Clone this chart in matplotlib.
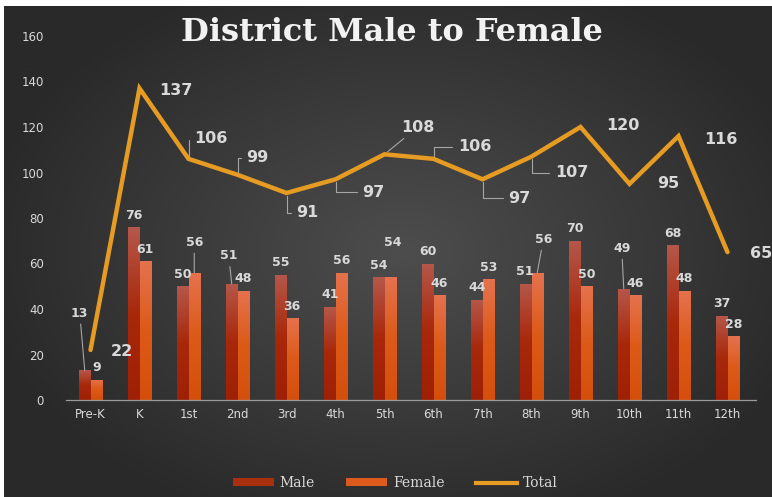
import numpy as np
import matplotlib.pyplot as plt
from matplotlib.colors import LinearSegmentedColormap
from matplotlib.lines import Line2D
from matplotlib.patches import Patch

grades = ['Pre-K', 'K', '1st', '2nd', '3rd', '4th', '5th', '6th', '7th',
          '8th', '9th', '10th', '11th', '12th']
male = [13, 76, 50, 51, 55, 41, 54, 60, 44, 51, 70, 49, 68, 37]
female = [9, 61, 56, 48, 36, 56, 54, 46, 53, 56, 50, 46, 48, 28]
total = [22, 137, 106, 99, 91, 97, 108, 106, 97, 107, 120, 95, 116, 65]
yticks = [0, 20, 40, 60, 80, 100, 120, 140, 160]

# label placement (pixels, from the point / bar top)
total_off = [(31, -2), (36, -2), (22, 20), (20, 17), (21, -20), (38, -13), (33, 27),
             (41, 12), (37, -19), (40, -16), (42, 2), (39, 0), (42, -3), (34, -1)]
total_lead = [None, None, 'e', 'e', 'e', 'e', 's', 'e', 'e', 'e', None, None, None, None]
male_off = {0: (-5, 57), 1: (0, 12), 3: (-3, 28), 9: (-1, 12), 11: (-2, 40)}
male_lead = [0, 3, 11]
female_off = {2: (0, 30), 6: (2, 35), 9: (6, 33)}
female_lead = [2, 9]

txt = '#d9d9d9'
lead = '#a6a6a6'
gold = '#E69B22'

fig = plt.figure(figsize=(7.72, 4.97), dpi=100)
fig.patch.set_facecolor('white')

# radial background
bg = fig.add_axes([0.005, 0, 0.995, 0.988])
bg.set_axis_off()
yy, xx = np.mgrid[0:1:300j, 0:1:480j]
r = np.sqrt(((xx - 0.52) / 0.75) ** 2 + ((yy - 0.5) / 0.8) ** 2)
bgcm = LinearSegmentedColormap.from_list('bg', ['#4d4d4d', '#3b3b3b', '#292929'])
bg.imshow(r, cmap=bgcm, aspect='auto', extent=[0, 1, 0, 1], vmin=0, vmax=0.75)

ax = fig.add_axes([66 / 772, 97 / 497, 686 / 772, 364 / 497])
ax.patch.set_alpha(0)
x = np.arange(len(grades))
w = 0.235

mb = ax.bar(x - w / 2, male, w, color='#A8300F', zorder=2)
fb = ax.bar(x + w / 2, female, w, color='#DC5A1C', zorder=2)

male_cm = LinearSegmentedColormap.from_list('m', ['#9E2006', '#A8280A', '#B5574A'])
fem_cm = LinearSegmentedColormap.from_list('f', ['#D54F0C', '#DC5A18', '#E5724E'])
grad = np.linspace(0, 1, 100).reshape(-1, 1)
for bars, cm in ((mb, male_cm), (fb, fem_cm)):
    for p in bars:
        x0, y0 = p.get_x(), p.get_y()
        im = ax.imshow(grad, cmap=cm, origin='lower', aspect='auto', zorder=2.1,
                       extent=[x0, x0 + p.get_width(), y0, y0 + p.get_height()])
        im.set_clip_path(p)

ax.plot(x, total, color=gold, lw=3.2, solid_capstyle='round', solid_joinstyle='miter', zorder=3)

ax.set_xlim(-0.5, len(grades) - 0.5)
ax.set_ylim(0, 160)
ax.set_yticks(yticks)
ax.set_xticks(x)
ax.set_xticklabels(grades)
for s in ['top', 'right', 'left']:
    ax.spines[s].set_visible(False)
ax.spines['bottom'].set_color('#9a9a9a')
ax.spines['bottom'].set_linewidth(0.9)
ax.spines['bottom'].set_bounds(-0.5, 13.58)
ax.tick_params(axis='both', length=0, colors=txt, labelsize=8.5)
ax.tick_params(axis='y', pad=16)
ax.tick_params(axis='x', pad=6)

# total labels
for i, v in enumerate(total):
    dx, dy = total_off[i]
    kw = {}
    if total_lead[i] == 'e':
        kw['arrowprops'] = dict(arrowstyle='-', color=lead, lw=0.8, shrinkA=2, shrinkB=2,
                                connectionstyle='angle,angleA=0,angleB=90,rad=0')
    elif total_lead[i] == 's':
        kw['arrowprops'] = dict(arrowstyle='-', color=lead, lw=0.8, shrinkA=1, shrinkB=3)
    ax.annotate(str(v), (x[i], v), xytext=(dx, dy), textcoords='offset pixels',
                ha='center', va='center', color=txt, fontsize=11.5, fontweight='bold',
                zorder=5, **kw)

# bar labels
for bars, vals, offs, leads in ((mb, male, male_off, male_lead), (fb, female, female_off, female_lead)):
    for i, p in enumerate(bars):
        dx, dy = offs.get(i, (0, 12))
        kw = {}
        if i in leads:
            kw['arrowprops'] = dict(arrowstyle='-', color=lead, lw=0.8, shrinkA=1, shrinkB=0)
        ax.annotate(str(vals[i]), (p.get_x() + p.get_width() / 2, vals[i]), xytext=(dx, dy),
                    textcoords='offset pixels', ha='center', va='center', color=txt,
                    fontsize=9, fontweight='bold', zorder=5, **kw)

fig.text(0.508, 0.935, 'District Male to Female', ha='center', va='center',
         fontsize=23, fontweight='bold', family='DejaVu Serif', color='#f2f2f2')

handles = [Patch(facecolor='#A8300F'), Patch(facecolor='#DC5A1C'),
           Line2D([], [], color=gold, lw=3)]
leg = fig.legend(handles, ['Male', 'Female', 'Total'], loc='center', ncol=3,
                 bbox_to_anchor=(0.512, 0.028), frameon=False, handlelength=2.95,
                 handleheight=0.55, columnspacing=2.3, handletextpad=0.4,
                 prop={'family': 'DejaVu Serif', 'size': 10})
for t in leg.get_texts():
    t.set_color(txt)

fig.savefig('out.png', dpi=100, facecolor=fig.get_facecolor())
